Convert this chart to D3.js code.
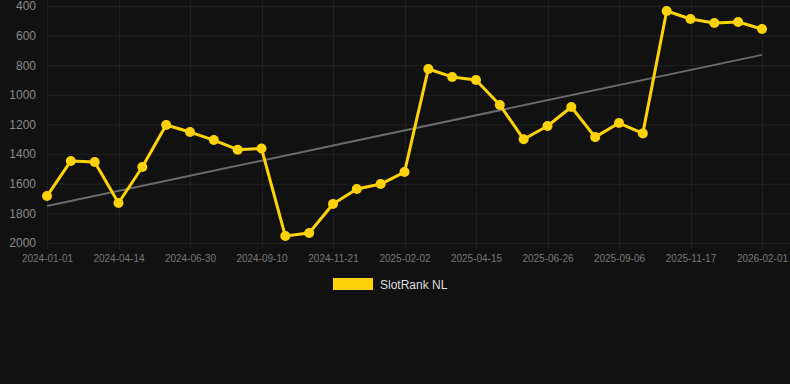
<!DOCTYPE html>
<html>
<head>
<meta charset="utf-8">
<script src="https://cdn.jsdelivr.net/npm/d3@7"></script>
<style>
  html, body { margin: 0; padding: 0; background: #111111; }
  svg { display: block; font-family: "Liberation Sans", Arial, sans-serif; }
</style>
</head>
<body>
<div id="chart"></div>
<script>
// dates shown on the category axis (every third one is labelled)
const dates = [
    "2024-01-01", "2024-02-05", "2024-03-11", "2024-04-14", "2024-05-10", "2024-06-05",
    "2024-06-30", "2024-07-24", "2024-08-17", "2024-09-10", "2024-10-04", "2024-10-28",
    "2024-11-21", "2024-12-15", "2025-01-08", "2025-02-02", "2025-02-26", "2025-03-22",
    "2025-04-15", "2025-05-09", "2025-06-02", "2025-06-26", "2025-07-20", "2025-08-13",
    "2025-09-06", "2025-09-30", "2025-10-24", "2025-11-17", "2025-12-12", "2026-01-06",
    "2026-02-01"
];

// rank per date
const ranks = [
    1683, 1446, 1453, 1730, 1487, 1203, 1251, 1305, 1370, 1362,
    1953, 1932, 1737, 1635, 1602, 1521, 825, 879, 900, 1068,
    1300, 1210, 1082, 1285, 1190, 1260, 434, 488, 515, 508, 555
];

// trend line, value at first and last date
const trendValues = [1750, 730];

const yTicks = [400, 600, 800, 1000, 1200, 1400, 1600, 1800, 2000];
const seriesName = "SlotRank NL";

const width = 790, height = 384;
const plot = { left: 47, right: 762, top: 6, bottom: 243, gridRight: 790 };

const svg = d3.select("#chart")
    .append("svg")
    .attr("width", width)
    .attr("height", height);

svg.append("rect")
    .attr("width", width)
    .attr("height", height)
    .attr("fill", "#111111");

const x = d3.scalePoint()
    .domain(dates)
    .range([plot.left, plot.right]);

const y = d3.scaleLinear()
    .domain([400, 2000])
    .range([plot.top, plot.bottom]);

const labelled = dates.filter((d, i) => i % 3 === 0);

// grid
svg.append("g")
    .selectAll("line")
    .data(yTicks)
    .enter()
    .append("line")
    .attr("x1", plot.left)
    .attr("x2", plot.gridRight)
    .attr("y1", d => y(d) + 0.5)
    .attr("y2", d => y(d) + 0.5)
    .attr("stroke", "#222222")
    .attr("stroke-width", 1);

svg.append("g")
    .selectAll("line")
    .data(labelled)
    .enter()
    .append("line")
    .attr("x1", d => Math.round(x(d)) + 0.5)
    .attr("x2", d => Math.round(x(d)) + 0.5)
    .attr("y1", 0)
    .attr("y2", plot.bottom + 6)
    .attr("stroke", "#1e1e1e")
    .attr("stroke-width", 1);

// y axis
const yAxis = svg.append("g")
    .attr("transform", `translate(${plot.left - 11},0)`)
    .call(d3.axisLeft(y).tickValues(yTicks).tickFormat(d3.format("d")).tickSize(0).tickPadding(0));
yAxis.select(".domain").remove();
yAxis.selectAll("text")
    .attr("fill", "#8a8a8a")
    .style("font-size", "12px");

// x axis
const xAxis = svg.append("g")
    .attr("transform", `translate(0,${plot.bottom + 8})`)
    .call(d3.axisBottom(x).tickValues(labelled).tickSize(0).tickPadding(4));
xAxis.select(".domain").remove();
xAxis.selectAll("text")
    .attr("fill", "#777777")
    .style("font-size", "10px");

// trend line
svg.append("line")
    .attr("x1", x(dates[0]))
    .attr("x2", x(dates[dates.length - 1]))
    .attr("y1", y(trendValues[0]))
    .attr("y2", y(trendValues[1]))
    .attr("stroke", "#6a6a6a")
    .attr("stroke-width", 2);

// series
const line = d3.line()
    .x((d, i) => x(dates[i]))
    .y(d => y(d));

svg.append("path")
    .datum(ranks)
    .attr("d", line)
    .attr("fill", "none")
    .attr("stroke", "#FFD20A")
    .attr("stroke-width", 3)
    .attr("stroke-linejoin", "round");

svg.append("g")
    .selectAll("circle")
    .data(ranks)
    .enter()
    .append("circle")
    .attr("cx", (d, i) => x(dates[i]))
    .attr("cy", d => y(d))
    .attr("r", 5)
    .attr("fill", "#FFD20A");

// legend
const legend = svg.append("g").attr("transform", "translate(333,278)");
legend.append("rect")
    .attr("width", 40)
    .attr("height", 12)
    .attr("fill", "#FFD20A");
legend.append("text")
    .attr("x", 47)
    .attr("y", 10.5)
    .attr("fill", "#dddddd")
    .style("font-size", "12px")
    .text(seriesName);
</script>
</body>
</html>
